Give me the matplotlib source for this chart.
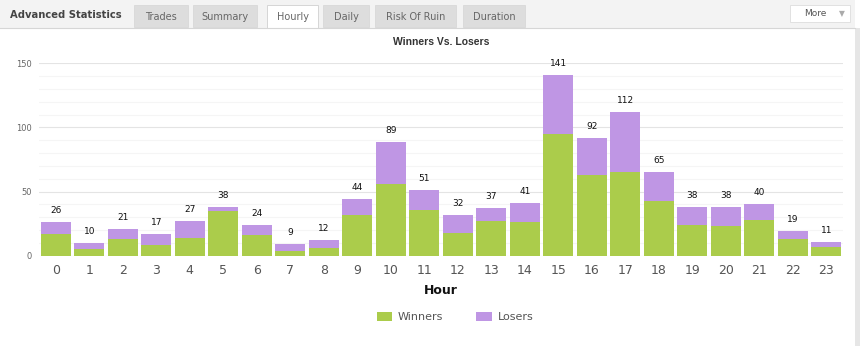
import matplotlib.pyplot as plt
from matplotlib.patches import Rectangle
import numpy as np

hours = list(range(24))
totals = [26, 10, 21, 17, 27, 38, 24, 9, 12, 44, 89, 51, 32, 37, 41, 141, 92, 112, 65, 38, 38, 40, 19, 11]
winners = [17, 5, 13, 8, 14, 35, 16, 4, 6, 32, 56, 36, 18, 27, 26, 95, 63, 65, 43, 24, 23, 28, 13, 7]
losers = [t - w for t, w in zip(totals, winners)]

tabs = ["Trades", "Summary", "Hourly", "Daily", "Risk Of Ruin", "Duration"]
tab_x = [(134, 188), (193, 257), (267, 318), (323, 369), (375, 456), (463, 525)]
active_tab = "Hourly"

green = "#abcc4b"
purple = "#bf96e4"

W, H = 864, 346
fig = plt.figure(figsize=(W / 100, H / 100), dpi=100)
fig.patch.set_facecolor("white")


def fx(px):
    return px / W


def fy(py):
    return 1 - py / H


# header strip
fig.patches.append(Rectangle((0, fy(28)), fx(855), 28 / H, transform=fig.transFigure,
                             facecolor="#f3f3f3", edgecolor="none", zorder=0))
fig.lines.append(plt.Line2D([0, fx(855)], [fy(27.5), fy(27.5)], transform=fig.transFigure,
                            color="#d6d6d6", lw=0.8))
# right panel border
fig.patches.append(Rectangle((fx(855), 0), fx(5), fy(28), transform=fig.transFigure,
                             facecolor="#e6e6e6", edgecolor="none", zorder=0))

fig.text(fx(10), fy(15.5), "Advanced Statistics", fontsize=7.2, fontweight="bold",
         color="#444444", va="center", family="DejaVu Sans")

for name, (x0, x1) in zip(tabs, tab_x):
    active = name == active_tab
    fc = "white" if active else "#dddddd"
    ec = "#d0d0d0" if active else "#d8d8d8"
    y_top = 5
    y_bot = 28 if active else 27
    fig.patches.append(Rectangle((fx(x0), fy(y_bot)), fx(x1 - x0), (y_bot - y_top) / H,
                                 transform=fig.transFigure, facecolor=fc, edgecolor=ec,
                                 lw=0.6, zorder=1))
    fig.text(fx((x0 + x1) / 2), fy(16.5), name, fontsize=7, color="#666666",
             ha="center", va="center", family="DejaVu Sans", zorder=2)

# More button
fig.patches.append(Rectangle((fx(790), fy(22)), fx(60), 17 / H, transform=fig.transFigure,
                             facecolor="white", edgecolor="#dddddd", lw=0.6, zorder=1))
fig.text(fx(815), fy(13.5), "More", fontsize=6.5, color="#555555", ha="center",
         va="center", family="DejaVu Sans", zorder=2)
fig.text(fx(842), fy(13.5), "\u25bc", fontsize=5.5, color="#aaaaaa", ha="center",
         va="center", family="DejaVu Sans", zorder=2)

ax = fig.add_axes([fx(39), fy(255.7), fx(804), 192.4 / H])
ax.bar(hours, winners, width=0.91, color=green, label="Winners", zorder=3)
ax.bar(hours, losers, width=0.91, bottom=winners, color=purple, label="Losers", zorder=3)

for h, t in zip(hours, totals):
    ax.annotate(str(t), (h, t), xytext=(0, 5), textcoords="offset points",
                ha="center", va="bottom", fontsize=6.5, color="#111111")

ax.set_xlim(-0.5, 23.5)
ax.set_ylim(0, 150)
ax.set_yticks([0, 50, 100, 150])
ax.set_yticks(np.arange(0, 151, 10), minor=True)
ax.set_xticks(hours)
ax.grid(axis="y", which="major", color="#e4e4e4", lw=0.8, zorder=0)
ax.grid(axis="y", which="minor", color="#f5f5f5", lw=0.8, zorder=0)
ax.tick_params(axis="y", which="both", length=0, labelsize=6, labelcolor="#666666", pad=5)
ax.tick_params(axis="x", length=0, labelsize=9, labelcolor="#555555", pad=6)
for s in ax.spines.values():
    s.set_visible(False)
ax.set_xlabel("Hour", fontsize=9, fontweight="bold", color="#111111", labelpad=5)
ax.set_title("Winners Vs. Losers", fontsize=7.5, fontweight="bold", color="#333333",
             family="Liberation Sans", pad=13)

fig.legend(loc="center", bbox_to_anchor=(fx(455), fy(317)), ncol=2, frameon=False,
           fontsize=8, labelcolor="#555555", handlelength=1.4, handleheight=0.9,
           columnspacing=3, handletextpad=0.5)

fig.savefig("out.png", dpi=100)
